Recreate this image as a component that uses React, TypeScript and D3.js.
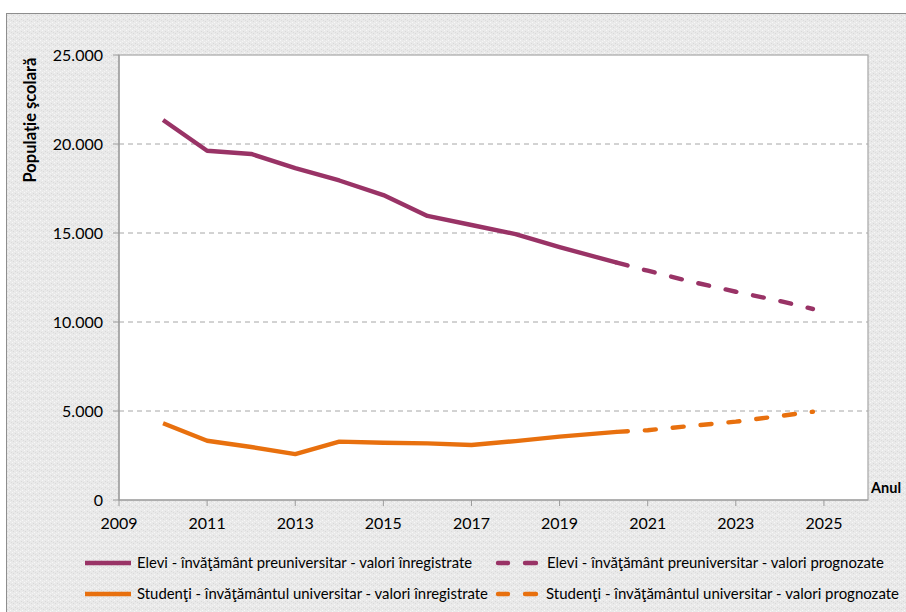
import React from "react";
import * as d3 from "d3";

const recordedYears = [2010, 2011, 2012, 2013, 2014, 2015, 2016, 2017, 2018, 2019, 2020.3];
const eleviRecorded = [21350, 19620, 19440, 18650, 17950, 17130, 15960, 15450, 14940, 14210, 13330];
const studentiRecorded = [4310, 3330, 2980, 2580, 3280, 3220, 3180, 3090, 3310, 3560, 3830];

const forecastYears = [2020.3, 2021, 2022, 2023, 2024, 2024.75];
const eleviForecast = [13330, 12880, 12260, 11700, 11180, 10730];
const studentiForecast = [3830, 3920, 4170, 4400, 4720, 4960];

const xTicks = [2009, 2011, 2013, 2015, 2017, 2019, 2021, 2023, 2025];
const yTicks = [0, 5000, 10000, 15000, 20000, 25000];

const legendLabels = [
  "Elevi - învăţământ preuniversitar - valori înregistrate",
  "Elevi - învăţământ preuniversitar - valori prognozate",
  "Studenţi - învăţământul universitar - valori înregistrate",
  "Studenţi - învăţământul universitar - valori prognozate",
];

const yTitle = "Populaţie şcolară";
const xTitle = "Anul";

const PURPLE = "#993366";
const ORANGE = "#E8700E";
const FONT = "Lato, 'Open Sans', sans-serif";

export default function App() {
  const W = 906, H = 612;
  const left = 119, right = 868, top = 55, bottom = 500;
  const x = d3.scaleLinear().domain([2009, 2026]).range([left, right]);
  const y = d3.scaleLinear().domain([0, 25000]).range([bottom, top]);
  const fmt = d3.formatLocale({ decimal: ",", thousands: ".", grouping: [3], currency: ["", ""] }).format(",");
  const line = d3.line<[number, number]>().x(d => x(d[0])).y(d => y(d[1]));
  const mk = (xs: number[], vs: number[]) => line(xs.map((v, i) => [v, vs[i]] as [number, number])) || "";

  const series = [
    { d: mk(recordedYears, eleviRecorded), color: PURPLE, dash: undefined },
    { d: mk(forecastYears, eleviForecast), color: PURPLE, dash: "11,17" },
    { d: mk(recordedYears, studentiRecorded), color: ORANGE, dash: undefined },
    { d: mk(forecastYears, studentiForecast), color: ORANGE, dash: "11,17" },
  ];

  const legendItems = [
    { x: 85, y: 563, color: PURPLE, dashed: false, label: legendLabels[0], tx: 137, tl: 335 },
    { x: 496, y: 563, color: PURPLE, dashed: true, label: legendLabels[1], tx: 547, tl: 337 },
    { x: 85, y: 594, color: ORANGE, dashed: false, label: legendLabels[2], tx: 137, tl: 351 },
    { x: 496, y: 594, color: ORANGE, dashed: true, label: legendLabels[3], tx: 546, tl: 353 },
  ];

  return (
    <svg width={W} height={H} style={{ position: "absolute", left: 0, top: 0 }} fontFamily={FONT}>
      <defs>
        <pattern id="paper" width="6" height="6" patternUnits="userSpaceOnUse">
          <rect width="6" height="6" fill="#e9e9e9" />
          <rect x="0" y="0" width="1" height="1" fill="#f7f7f7" />
          <rect x="3" y="1" width="1" height="1" fill="#d8d8d8" />
          <rect x="1" y="3" width="1" height="1" fill="#d9d9d9" />
          <rect x="4" y="4" width="1" height="1" fill="#f8f8f8" />
          <rect x="2" y="5" width="1" height="1" fill="#f4f4f4" />
          <rect x="5" y="2" width="1" height="1" fill="#dcdcdc" />
        </pattern>
      </defs>
      <rect x={0} y={0} width={W} height={H} fill="#ffffff" />
      <rect x={6.5} y={13.5} width={W} height={H} fill="url(#paper)" stroke="#8e8e8e" strokeWidth={1} />
      <rect x={left} y={top} width={right - left} height={bottom - top} fill="#ffffff" stroke="#a6a6a6" strokeWidth={1.2} />

      {yTicks.filter(t => t > 0 && t < 25000).map(t => (
        <line key={t} x1={left} x2={right} y1={y(t)} y2={y(t)} stroke="#a6a6a6" strokeWidth={1} strokeDasharray="5,4" />
      ))}

      {/* y axis */}
      <line x1={left} x2={left} y1={top} y2={bottom} stroke="#9a9a9a" strokeWidth={1.2} />
      {yTicks.map(t => (
        <g key={t}>
          <line x1={left - 6} x2={left} y1={y(t)} y2={y(t)} stroke="#9a9a9a" strokeWidth={1} />
          <text x={103} y={y(t)} dy="0.35em" textAnchor="end" fontSize={16} fill="#000">{fmt(t)}</text>
        </g>
      ))}
      {/* x axis */}
      <line x1={left} x2={right} y1={bottom} y2={bottom} stroke="#9a9a9a" strokeWidth={1.2} />
      {xTicks.map(t => (
        <g key={t}>
          <line x1={x(t)} x2={x(t)} y1={bottom} y2={bottom + 6} stroke="#9a9a9a" strokeWidth={1} />
          <text x={x(t)} y={523} dy="0.35em" textAnchor="middle" fontSize={16} fill="#000">{t}</text>
        </g>
      ))}

      {series.map((s, i) => (
        <path key={i} d={s.d} fill="none" stroke={s.color} strokeWidth={4.4} strokeDasharray={s.dash}
          strokeLinecap={s.dash ? "round" : "butt"} strokeLinejoin="round" />
      ))}

      <text transform={`translate(36,120) rotate(-90)`} textAnchor="middle" fontSize={16.5} fontWeight="bold" fill="#000">{yTitle}</text>
      <text x={871} y={493} fontSize={14.5} fontWeight="bold" fill="#000">{xTitle}</text>

      {legendItems.map((it, i) => (
        <g key={i}>
          {it.dashed ? (
            <>
              <line x1={it.x + 2} x2={it.x + 12} y1={it.y} y2={it.y} stroke={it.color} strokeWidth={4.4} strokeLinecap="round" />
              <line x1={it.x + 29} x2={it.x + 40} y1={it.y} y2={it.y} stroke={it.color} strokeWidth={4.4} strokeLinecap="round" />
            </>
          ) : (
            <line x1={it.x} x2={it.x + 46} y1={it.y} y2={it.y} stroke={it.color} strokeWidth={4.4} />
          )}
          <text x={it.tx} y={it.y} dy="0.35em" fontSize={15} fill="#000" textLength={it.tl} lengthAdjust="spacingAndGlyphs">{it.label}</text>
        </g>
      ))}
    </svg>
  );
}
